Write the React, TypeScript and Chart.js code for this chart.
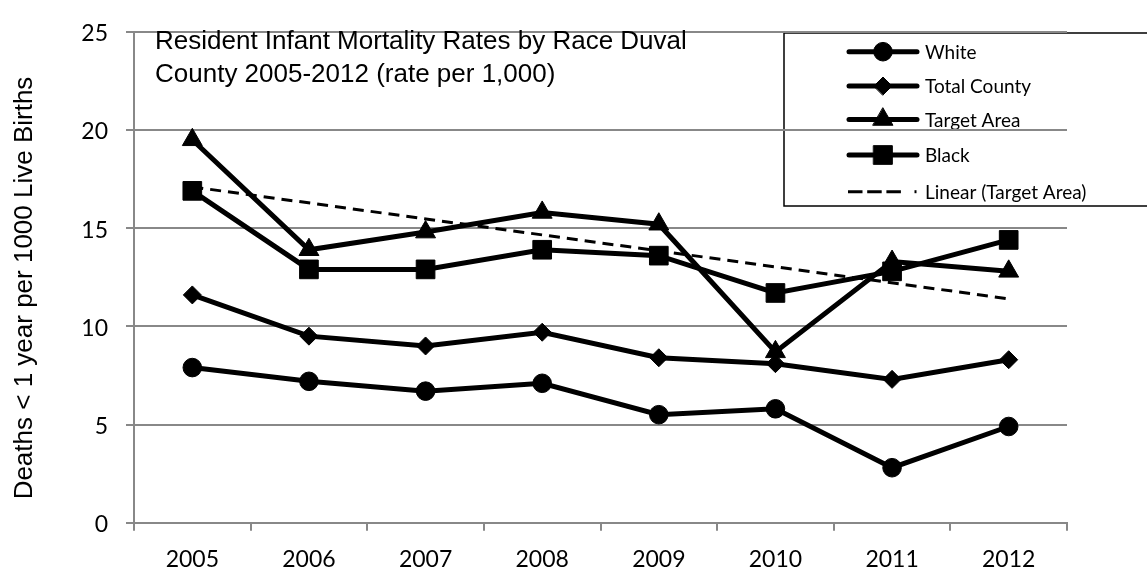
import React, { useEffect, useRef } from "react";
import { Chart, registerables } from "chart.js";
import { drawPoint } from "chart.js/helpers";

Chart.register(...registerables);

const years = ["2005", "2006", "2007", "2008", "2009", "2010", "2011", "2012"];
const white = [7.9, 7.2, 6.7, 7.1, 5.5, 5.8, 2.8, 4.9];
const totalCounty = [11.6, 9.5, 9.0, 9.7, 8.4, 8.1, 7.3, 8.3];
const targetArea = [19.5, 13.9, 14.8, 15.8, 15.2, 8.7, 13.3, 12.8];
const black = [16.9, 12.9, 12.9, 13.9, 13.6, 11.7, 12.8, 14.4];
const linearTarget = [17.1, null, null, null, null, null, null, 11.4];
const yTicks = [0, 5, 10, 15, 20, 25];
const seriesLabels = ["White", "Total County", "Target Area", "Black", "Linear (Target Area)"];
const titleLines = [
  "Resident Infant Mortality Rates by Race Duval",
  "County 2005-2012 (rate per 1,000)",
];
const yTitle = "Deaths < 1 year per 1000 Live Births";

const GRID = "#888888";
const TICK_FONT = "Lato";
const TEXT_FONT = "'Liberation Sans', Arial, sans-serif";

const legendPlugin = {
  id: "boxLegend",
  beforeDraw(chart: any) {
    const ctx = chart.ctx;
    ctx.save();
    ctx.strokeStyle = "#000";
    ctx.lineWidth = 1.5;
    ctx.strokeRect(784, 33, 420, 173);
    const rows = [51.7, 86, 119.5, 155, 191.7];
    chart.data.datasets.forEach((ds: any, i: number) => {
      const y = rows[i];
      ctx.save();
      ctx.strokeStyle = "#000";
      ctx.fillStyle = "#000";
      ctx.lineWidth = ds.borderWidth;
      if (ds.borderDash) {
        ctx.lineCap = "butt";
        ctx.setLineDash([14.5, 4.7]);
        ctx.beginPath();
        ctx.moveTo(848, y);
        ctx.lineTo(902, y);
        ctx.stroke();
        ctx.setLineDash([]);
        ctx.beginPath();
        ctx.moveTo(914.5, y);
        ctx.lineTo(916.5, y);
        ctx.stroke();
      } else {
        ctx.lineCap = "round";
        ctx.beginPath();
        ctx.moveTo(849, y);
        ctx.lineTo(917, y);
        ctx.stroke();
      }
      if (ds.pointRadius > 0) {
        ctx.lineWidth = 1;
        drawPoint(ctx, { pointStyle: ds.pointStyle, radius: ds.pointRadius, rotation: 0, borderWidth: 1 } as any, 883, y);
      }
      ctx.font = `19px ${TICK_FONT}`;
      ctx.textBaseline = "middle";
      ctx.textAlign = "left";
      ctx.fillText(ds.label, 925, y + 1);
      ctx.restore();
    });
    ctx.restore();
  },
};

const textPlugin = {
  id: "innerTexts",
  afterDraw(chart: any) {
    const ctx = chart.ctx;
    ctx.save();
    ctx.fillStyle = "#000";
    ctx.font = `26px ${TEXT_FONT}`;
    ctx.textAlign = "left";
    ctx.textBaseline = "alphabetic";
    ctx.fillText(titleLines[0], 155, 48.5);
    ctx.fillText(titleLines[1], 155, 82);
    ctx.translate(32, 288);
    ctx.rotate(-Math.PI / 2);
    ctx.font = `26px ${TEXT_FONT}`;
    ctx.textAlign = "center";
    ctx.textBaseline = "alphabetic";
    ctx.fillText(yTitle, 0, 0);
    ctx.restore();
  },
};

export default function App() {
  const ref = useRef<HTMLCanvasElement>(null);
  useEffect(() => {
    const base = {
      borderColor: "#000",
      backgroundColor: "#000",
      pointBackgroundColor: "#000",
      pointBorderColor: "#000",
      pointBorderWidth: 1,
      borderWidth: 5,
      tension: 0,
    };
    const chart = new Chart(ref.current!, {
      type: "line",
      data: {
        labels: years,
        datasets: [
          { ...base, label: seriesLabels[0], data: white, pointStyle: "circle", pointRadius: 9.3 },
          { ...base, label: seriesLabels[1], data: totalCounty, pointStyle: "rectRot", pointRadius: 9 },
          { ...base, label: seriesLabels[2], data: targetArea, pointStyle: "triangle", pointRadius: 11.5 },
          { ...base, label: seriesLabels[3], data: black, pointStyle: "rect", pointRadius: 13.2 },
          {
            ...base,
            label: seriesLabels[4],
            data: linearTarget,
            borderWidth: 3,
            borderDash: [11, 7],
            pointRadius: 0,
            spanGaps: true,
          },
        ] as any,
      },
      options: {
        responsive: false,
        devicePixelRatio: 1,
        animation: false,
        layout: { padding: { top: 18, right: 80, bottom: 0, left: 0 } },
        plugins: { legend: { display: false }, tooltip: { enabled: false }, title: { display: false } },
        scales: {
          x: {
            type: "category",
            offset: true,
            grid: { offset: true, drawOnChartArea: false, drawTicks: true, tickLength: 8, color: GRID, lineWidth: 2 },
            border: { display: true, color: GRID, width: 2 },
            ticks: { font: { family: TICK_FONT, size: 23 }, color: "#000", padding: 15, maxRotation: 0, autoSkip: false },
            afterFit: (s: any) => {
              s.height = 48.3;
            },
          },
          y: {
            min: 0,
            max: 25,
            grid: { color: GRID, lineWidth: 2, tickLength: 8, drawTicks: true },
            border: { display: true, color: GRID, width: 2 },
            ticks: { stepSize: 5, font: { family: TICK_FONT, size: 23 }, color: "#000", padding: 18, labelOffset: 2 },
            afterBuildTicks: (s: any) => {
              s.ticks = yTicks.map((v) => ({ value: v }));
            },
            afterFit: (s: any) => {
              s.width = 134;
            },
          },
        },
      } as any,
      plugins: [legendPlugin, textPlugin],
    });
    return () => chart.destroy();
  }, []);
  return (
    <div style={{ position: "fixed", left: 0, top: 0, width: 1147, height: 571, background: "#fff" }}>
      <canvas ref={ref} width={1147} height={571} style={{ display: "block" }} />
    </div>
  );
}
